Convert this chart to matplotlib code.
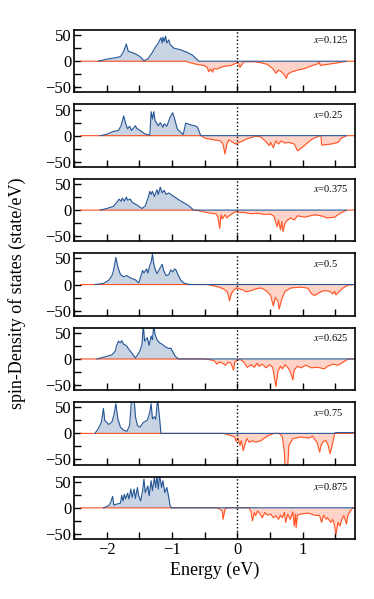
"""
Spin-resolved density of states for seven compositions x
"""
import matplotlib
matplotlib.use('Agg')
import matplotlib.pyplot as plt
from matplotlib.ticker import MultipleLocator

plt.rcParams['font.family'] = 'serif'
plt.rcParams['font.serif'] = ['Liberation Serif', 'DejaVu Serif']
plt.rcParams['mathtext.fontset'] = 'stix'

compositions = ['0.125', '0.25', '0.375', '0.5', '0.625', '0.75', '0.875']

# x = 0.125
e_up_1 = [-2.13, -2.0, -1.85, -1.79, -1.74, -1.70, -1.67, -1.62, -1.56, -1.49, -1.43, -1.37,
          -1.31, -1.26, -1.21, -1.17, -1.15, -1.14, -1.12, -1.10, -1.08, -1.05, -1.03, -0.97,
          -0.87, -0.77, -0.69, -0.64, -0.59, 1.67]
up_1 = [0, 4, 7, 9, 19, 33, 19, 17, 14, 9, 1, 4.5,
        15, 26, 35, 45, 35, 46, 38, 48, 35, 41, 32, 25,
        22, 17, 12, 6, 0, 0]
e_dn_1 = [-2.4, -0.79, -0.72, -0.62, -0.51, -0.46, -0.44, -0.41, -0.38, -0.36, -0.31, -0.26,
          -0.21, -0.10, -0.03, 0.01, 0.04, 0.07, 0.10, 0.26, 0.36, 0.46, 0.54, 0.59, 0.63,
          0.67, 0.72, 0.75, 0.77, 0.82, 0.92, 1.03, 1.13, 1.23, 1.25, 1.27, 1.38, 1.54, 1.67, 1.85]
dn_1 = [0, 0, -3, -6, -8.4, -12, -20, -15, -21, -14, -15, -12,
        -10, -8, -4.5, -2.5, -12, -6, -1, -1, -3, -6, -14, -23, -17,
        -20, -26, -33, -25, -21, -17, -14, -9, -5, -1, -8, -6, -3, 0, 0]

# x = 0.25
e_up_2 = [-2.10, -2.0, -1.90, -1.82, -1.78, -1.74, -1.71, -1.68, -1.65, -1.62, -1.56, -1.54,
          -1.49, -1.41, -1.34, -1.32, -1.30, -1.28, -1.26, -1.21, -1.18, -1.14, -1.12, -1.08,
          -1.03, -0.99, -0.96, -0.92, -0.88, -0.83, -0.79, -0.72, -0.63, -0.61, -0.56, 1.67]
up_2 = [0, 2.5, 8, 10, 19, 38, 23, 13, 18, 10, 19, 14,
        10, 3, 1, 46, 32, 46, 29, 19, 25, 16, 23, 18,
        35, 44, 32, 13, 8, 2, 24, 21, 18, 16, 0, 0]
e_dn_2 = [-2.4, -0.56, -0.49, -0.36, -0.26, -0.22, -0.19, -0.16, -0.13, -0.08, -0.03, 0.01,
          0.05, 0.15, 0.28, 0.36, 0.44, 0.49, 0.51, 0.55, 0.59, 0.63, 0.67, 0.72, 0.79, 0.87,
          0.92, 0.97, 1.08, 1.15, 1.26, 1.28, 1.29, 1.44, 1.54, 1.59, 1.67, 1.85]
dn_2 = [0, 0, -5, -8, -10, -16, -35, -16, -8, -12, -16, -14,
        -12, -6, -1, -2.5, -12, -19, -13, -23, -10, -16, -10, -14, -13, -16,
        -29, -25, -13, -6, -0.5, 0, -18, -16, -13, -5, 0, 0]

# x = 0.375
e_up_3 = [-2.10, -2.0, -1.90, -1.85, -1.81, -1.78, -1.76, -1.73, -1.70, -1.68, -1.64, -1.61,
          -1.54, -1.46, -1.41, -1.36, -1.34, -1.32, -1.30, -1.27, -1.23, -1.21, -1.18, -1.15,
          -1.12, -1.09, -1.05, -0.97, -0.90, -0.82, -0.74, -0.67, 1.67]
up_3 = [0, 3, 7, 14, 21, 17, 23, 17, 25, 19, 21, 15,
        10, 3, 8, 26, 36, 30, 36, 26, 39, 30, 44, 33,
        38, 30, 33, 26, 20, 14, 8, 0, 0]
e_dn_3 = [-2.4, -0.64, -0.54, -0.41, -0.33, -0.30, -0.27, -0.25, -0.23, -0.19, -0.16, -0.13,
          -0.08, -0.03, 0.03, 0.10, 0.21, 0.31, 0.41, 0.51, 0.56, 0.61, 0.63, 0.66, 0.68, 0.70,
          0.73, 0.77, 0.82, 0.87, 0.92, 1.03, 1.18, 1.28, 1.38, 1.49, 1.56, 1.67, 1.85]
dn_3 = [0, 0, -2.6, -6, -7, -12, -35, -9, -17, -9, -15, -11,
        -7, -3, -4.5, -4.5, -7, -6, -8.4, -7.7, -12, -32, -19, -38, -22, -41,
        -25, -19, -15, -19, -11, -13.5, -9, -11, -15, -13.5, -7, 0, 0]

# x = 0.5
e_up_4 = [-2.18, -2.05, -1.97, -1.92, -1.89, -1.86, -1.83, -1.79, -1.74, -1.69, -1.64, -1.56,
          -1.51, -1.49, -1.45, -1.43, -1.39, -1.37, -1.34, -1.32, -1.30, -1.28, -1.26, -1.23,
          -1.19, -1.15, -1.13, -1.09, -1.05, -1.02, -0.99, -0.96, -0.94, -0.91, -0.87, -0.82,
          -0.74, 1.85]
up_4 = [0, 2, 8, 17, 30, 52, 34, 19, 15, 17, 13, 9,
        3, 11, 27, 22, 30, 22, 37, 43, 58, 40, 30, 21,
        30, 39, 27, 17, 19, 28, 24, 30, 28, 19, 9, 3,
        0, 0]
e_dn_4 = [-2.4, -0.46, -0.31, -0.21, -0.15, -0.12, -0.09, -0.05, -0.01, 0.03, 0.08, 0.13,
          0.21, 0.28, 0.36, 0.44, 0.51, 0.55, 0.58, 0.62, 0.64, 0.68, 0.73, 0.82, 0.97, 1.08,
          1.13, 1.18, 1.26, 1.33, 1.41, 1.46, 1.49, 1.51, 1.56, 1.62, 1.69, 1.79, 1.85]
dn_4 = [0, 0, -4, -8.4, -15, -31, -17, -10, -6.5, -8.4, -10, -14,
        -11.6, -8.4, -6.5, -11.6, -21, -41, -25, -31, -47, -28, -13, -6.5, -5, -7,
        -17, -21, -15, -11.6, -13, -18, -13, -20, -13, -6.5, -1.3, 0, 0]

# x = 0.625
e_up_5 = [-2.15, -2.0, -1.92, -1.87, -1.85, -1.82, -1.79, -1.77, -1.74, -1.70, -1.67, -1.62,
          -1.56, -1.53, -1.49, -1.46, -1.44, -1.42, -1.38, -1.35, -1.32, -1.30, -1.28, -1.26,
          -1.23, -1.19, -1.15, -1.10, -1.05, -1.02, -0.98, -0.95, -0.90, 1.80]
up_5 = [0, 5, 8, 15, 25, 34, 31, 35, 28, 26, 20, 12,
        2, 7, 16, 28, 65, 34, 41, 26, 44, 37, 65, 47,
        37, 31, 28, 23, 20, 21, 12, 5, 0, 0]
e_dn_5 = [-2.4, -0.49, -0.36, -0.31, -0.28, -0.23, -0.18, -0.14, -0.10, -0.06, -0.04, 0.0,
          0.05, 0.10, 0.15, 0.21, 0.26, 0.30, 0.33, 0.38, 0.44, 0.49, 0.54, 0.56, 0.59, 0.62,
          0.66, 0.69, 0.73, 0.77, 0.81, 0.85, 0.87, 0.92, 0.97, 1.05, 1.13, 1.23, 1.33, 1.38,
          1.46, 1.54, 1.62, 1.69, 1.74, 1.85]
dn_5 = [0, 0, -3, -10, -6, -8, -12, -6, -8, -21, -6, -2,
        -1.3, -6, -16, -11, -16, -8, -14, -10, -17, -11, -16, -30, -53, -24,
        -14, -19, -11, -16, -24, -40, -21, -14, -17, -12, -17, -16, -19, -14,
        -10, -12, -6, -0.6, 0, 0]

# x = 0.75
e_up_6 = [-2.18, -2.13, -2.08, -2.05, -2.03, -1.97, -1.92, -1.89, -1.86, -1.83, -1.79, -1.74,
          -1.69, -1.65, -1.63, -1.62, -1.58, -1.56, -1.53, -1.49, -1.44, -1.38, -1.36, -1.34,
          -1.32, -1.30, -1.27, -1.25, -1.23, -1.22, -1.19, -1.17, 1.49, 1.50, 1.85]
up_6 = [0, 9, 22, 48, 25, 17, 22, 35, 57, 28, 12, 6,
        4, 15, 48, 65, 65, 32, 15, 12, 21, 25, 32, 41,
        57, 28, 32, 27, 54, 65, 28, 0, 0, 1.5, 1.5]
e_dn_6 = [-2.4, -0.21, -0.10, -0.04, -0.02, 0.01, 0.04, 0.06, 0.09, 0.13, 0.15, 0.18,
          0.23, 0.28, 0.36, 0.46, 0.56, 0.64, 0.69, 0.72, 0.73, 0.77, 0.79, 0.85, 0.97, 1.10,
          1.15, 1.19, 1.22, 1.26, 1.28, 1.32, 1.36, 1.39, 1.42, 1.45, 1.49, 1.85]
dn_6 = [0, 0, -4, -7, -15, -10, -23, -14, -33, -15, -10, -17,
        -14, -17, -14, -5, 0, 0, -7, -36, -65, -65, -23, -10, -7, -9,
        -5, -13, -17, -36, -23, -15, -14, -23, -39, -23, 0, 0]

# x = 0.875
e_up_7 = [-2.05, -1.97, -1.94, -1.91, -1.89, -1.85, -1.79, -1.77, -1.75, -1.73, -1.71, -1.68,
          -1.66, -1.63, -1.61, -1.58, -1.56, -1.53, -1.51, -1.48, -1.45, -1.43, -1.41, -1.37,
          -1.35, -1.32, -1.30, -1.27, -1.25, -1.23, -1.21, -1.19, -1.16, -1.14, -1.11, -1.08,
          -1.05, -1.03, -1.01, 1.85]
up_7 = [0, 4, 10, 22, 5, 7, 9, 24, 13, 26, 17, 28,
        17, 36, 20, 36, 18, 39, 23, 13, 33, 55, 29, 42,
        23, 52, 33, 58, 39, 62, 36, 62, 39, 52, 29, 39,
        20, 4, 0, 0]
e_dn_7 = [-2.4, -0.32, -0.26, -0.23, -0.22, -0.19, -0.17, 0.18, 0.21, 0.23, 0.26, 0.28,
          0.31, 0.35, 0.38, 0.42, 0.46, 0.51, 0.55, 0.59, 0.63, 0.66, 0.69, 0.72, 0.74, 0.77,
          0.81, 0.85, 0.87, 0.89, 0.90, 0.92, 0.97, 1.08, 1.18, 1.26, 1.29, 1.32, 1.36, 1.38,
          1.43, 1.46, 1.49, 1.51, 1.54, 1.57, 1.60, 1.63, 1.67, 1.69, 1.73, 1.77, 1.85]
dn_7 = [0, 0, -3, -6, -22, -4, 0, 0, -8, -25, -9, -15,
        -6, -12, -19, -9, -14, -12, -19, -15, -22, -14, -19, -9, -28, -12,
        -22, -8, -35, -12, -38, -14, -12, -10, -14, -15, -28, -14, -22, -19,
        -28, -22, -35, -51, -28, -35, -22, -15, -31, -15, -6, 0, 0]

panels = [
    (e_up_1, up_1, e_dn_1, dn_1),
    (e_up_2, up_2, e_dn_2, dn_2),
    (e_up_3, up_3, e_dn_3, dn_3),
    (e_up_4, up_4, e_dn_4, dn_4),
    (e_up_5, up_5, e_dn_5, dn_5),
    (e_up_6, up_6, e_dn_6, dn_6),
    (e_up_7, up_7, e_dn_7, dn_7),
]

up_color = '#245595'
dn_color = '#ff5324'

fig, axes = plt.subplots(7, 1, figsize=(3.74, 5.99), dpi=100, sharex=True)
fig.subplots_adjust(left=0.198, right=0.949, top=0.95, bottom=0.1, hspace=0.19)

for ax, comp, (eu, du, ed, dd) in zip(axes, compositions, panels):
    ax.fill_between(ed, 0, dd, color=dn_color, alpha=0.25, lw=0)
    ax.plot(ed, dd, color=dn_color, lw=0.8)
    ax.fill_between(eu, 0, du, color=up_color, alpha=0.25, lw=0)
    ax.plot(eu, du, color=up_color, lw=0.8)
    ax.axvline(0, color='black', ls=':', lw=1.0)

    ax.set_xlim(-2.5, 1.8)
    ax.set_ylim(-60, 60)
    ax.set_yticks([-50, 0, 50])
    ax.yaxis.set_minor_locator(MultipleLocator(25))
    ax.xaxis.set_major_locator(MultipleLocator(1))
    ax.xaxis.set_minor_locator(MultipleLocator(0.5))
    ax.tick_params(which='both', direction='in', length=5, width=1.0, labelsize=12,
                   top=False, right=False, pad=2)
    for sp in ax.spines.values():
        sp.set_linewidth(1.2)

    ax.text(0.851, 0.84, '$x$=' + comp, transform=ax.transAxes, fontsize=7.5,
            ha='left', va='center')

axes[-1].set_xlabel('Energy (eV)', fontsize=13, labelpad=3)
fig.text(0.045, 0.51, 'spin-Density of states (state/eV)', rotation=90,
         ha='center', va='center', fontsize=13)

fig.savefig('out.png', dpi=100)
